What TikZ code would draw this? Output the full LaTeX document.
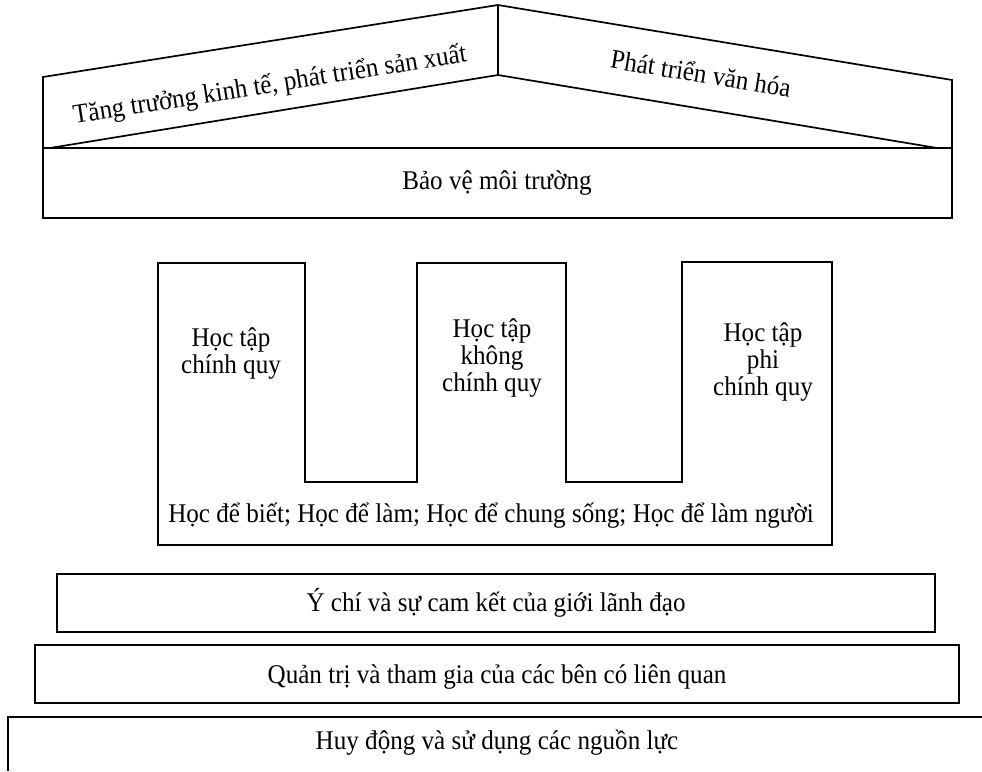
\documentclass[tikz,border=0pt]{standalone}
\usepackage{fontspec}
\setmainfont{Liberation Serif}[FakeStretch=0.93]

\begin{document}
\begin{tikzpicture}[x=1pt,y=-1pt,line width=1.7pt,line join=miter,
  chu/.style={font=\fontsize{27}{27}\selectfont,inner sep=0pt,align=center}]
\useasboundingbox (0,0) rectangle (982,771);
\path   (43,148)  coordinate (mai1) {}
        (43,77)   coordinate (mai2) {}
        (498,5)   coordinate (dinh) {}
        (498,75)  coordinate (dinh2) {}
        (952,80)  coordinate (mai3) {}
        (952,148) coordinate (mai4) {}
        (50,148)  coordinate (cham1) {}
        (937,148) coordinate (cham2) {}
        (43,218)  coordinate (nen) {};
% mai nha
\draw (mai1) -- (mai2) -- (dinh) -- (mai3) -- (mai4);
\draw (cham1) -- (dinh2) -- (cham2);
\draw (dinh) -- (dinh2);
\draw (mai1) rectangle (mai4 |- nen);
% than nha
\draw (158,263) -- (305,263) -- (305,482) -- (417,482) -- (417,263)
   -- (566,263) -- (566,482) -- (682,482) -- (682,262) -- (832,262)
   -- (832,545) -- (158,545) -- cycle;
% nen mong
\draw (57,574) rectangle (935,632);
\draw (35,645) rectangle (959,703);
\draw (8,771) -- (8,717) -- (982,717);

\node[chu,rotate=9]  (kinhte) at (270,86)  {Tăng trưởng kinh tế, phát triển sản xuất};
\node[chu,rotate=-9.3] (vanhoa) at (701,73) {Phát triển văn hóa};
\node[chu] (moitruong) at (497,183) {Bảo vệ môi trường};
\node[chu] (chinhquy)  at (231,354) {Học tập\\chính quy};
\node[chu] (khongcq)   at (492,358) {Học tập\\không\\chính quy};
\node[chu] (phicq)     at (763,362) {Học tập\\phi\\chính quy};
\node[chu] (hocde)     at (491,516) {Học để biết; Học để làm; Học để chung sống; Học để làm người};
\node[chu] (ychi)      at (496,603) {Ý chí và sự cam kết của giới lãnh đạo};
\node[chu] (quantri)   at (497,677) {Quản trị và tham gia của các bên có liên quan};
\node[chu] (huydong)   at (497,743) {Huy động và sử dụng các nguồn lực};

\end{tikzpicture}
\end{document}
